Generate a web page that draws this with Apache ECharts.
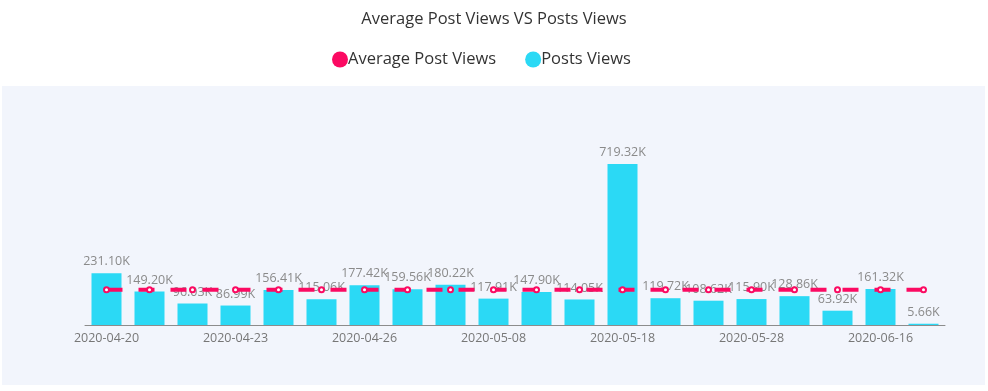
<!DOCTYPE html>
<html>
<head>
<meta charset="utf-8">
<script src="https://cdn.jsdelivr.net/npm/echarts@6/dist/echarts.min.js"></script>
<style>
html,body{margin:0;padding:0;background:#fff;}
#chart{width:988px;height:391px;}
</style>
</head>
<body>
<div id="chart"></div>
<script>
const categories = ['2020-04-20','2020-04-21','2020-04-22','2020-04-23','2020-04-24','2020-04-25','2020-04-26','2020-04-27','2020-05-01','2020-05-08','2020-05-11','2020-05-14','2020-05-18','2020-05-21','2020-05-25','2020-05-28','2020-06-02','2020-06-09','2020-06-16','2020-06-23'];
const postsViews = [231100,149200,96030,86990,156410,115060,177420,159560,180220,117910,147900,114050,719320,119720,108620,115900,128860,63920,161320,5660];
const averagePostViews = [157760,157760,157760,157760,157760,157760,157760,157760,157760,157760,157760,157760,157760,157760,157760,157760,157760,157760,157760,157760];
const seriesNames = ['Average Post Views','Posts Views'];
const titleText = 'Average Post Views VS Posts Views';

const PINK = '#fb0a62';
const CYAN = '#2bd9f5';
const FONT = 'Open Sans';

const chart = echarts.init(document.getElementById('chart'), null, {renderer:'canvas'});
chart.setOption({
  animation:false,
  textStyle:{fontFamily:FONT},
  title:{
    text:titleText, left:'center', top:6,
    textStyle:{fontFamily:FONT, fontSize:16.5, fontWeight:'normal', color:'#333'}
  },
  legend:{
    data:seriesNames, left:327, top:46, icon:'circle',
    itemWidth:16, itemHeight:16, itemGap:29,
    textStyle:{fontFamily:FONT, fontSize:16.5, color:'#333', padding:[0,0,0,-5]}
  },
  graphic:[{
    type:'rect', z:-100, silent:true,
    shape:{x:2, y:86, width:983, height:299},
    style:{fill:'#f2f5fc'}
  }],
  grid:{left:85, right:43, top:146, bottom:66},
  xAxis:{
    type:'category', data:categories,
    axisLine:{lineStyle:{color:'#8c8c8c'}},
    axisTick:{alignWithLabel:true, interval:2, length:4, lineStyle:{color:'#8c8c8c'}},
    axisLabel:{interval:2, color:'#777', fontSize:12.5, margin:7, fontFamily:FONT}
  },
  yAxis:{type:'value', min:0, max:800000, show:false, splitLine:{show:false}},
  series:[
    {
      name:seriesNames[0], type:'line', data:averagePostViews, z:5,
      color:PINK,
      symbol:'emptyCircle', symbolSize:5,
      itemStyle:{color:PINK, borderWidth:1.2},
      lineStyle:{color:PINK, width:4, type:[16,16]}
    },
    {
      name:seriesNames[1], type:'bar', data:postsViews, barWidth:30, z:2,
      color:CYAN,
      itemStyle:{color:CYAN},
      label:{show:true, position:'top', color:'#8a8a8a', fontSize:12.5, fontFamily:FONT,
        formatter:p => (p.value/1000).toFixed(2)+'K'}
    }
  ]
});
</script>
</body>
</html>
